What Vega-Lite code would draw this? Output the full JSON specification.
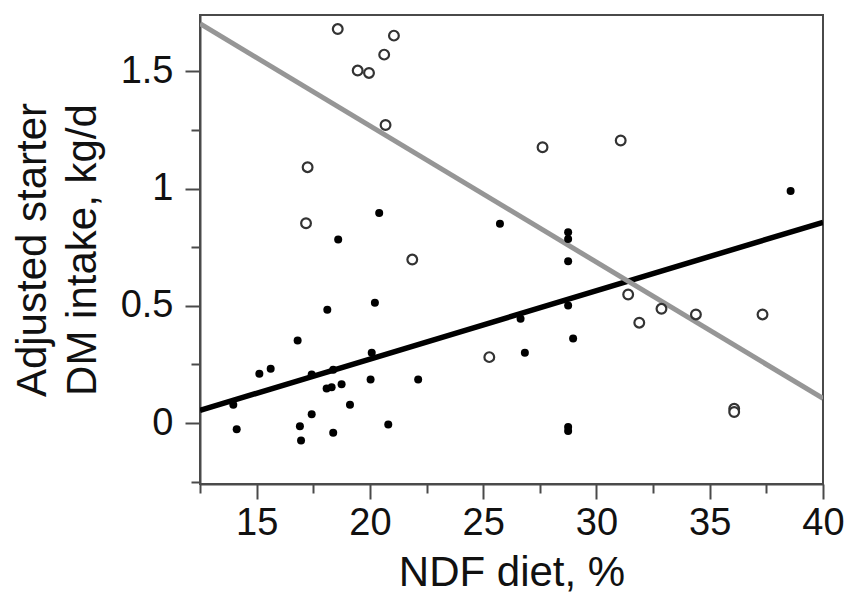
{
  "$schema": "https://vega.github.io/schema/vega-lite/v6.json",
  "autosize": {"type": "none"},
  "padding": {"left": 200, "top": 15, "right": 27, "bottom": 115},
  "width": 623,
  "height": 469,
  "background": "white",
  "config": {
    "view": {"stroke": "#4a4a4a", "strokeWidth": 2},
    "font": "Liberation Sans"
  },
  "datasets": {
    "points": [
      {"x": 18.58, "y": 1.68, "group": "Group 2"},
      {"x": 21.06, "y": 1.652, "group": "Group 2"},
      {"x": 20.63, "y": 1.571, "group": "Group 2"},
      {"x": 19.46, "y": 1.503, "group": "Group 2"},
      {"x": 19.96, "y": 1.493, "group": "Group 2"},
      {"x": 20.69, "y": 1.271, "group": "Group 2"},
      {"x": 17.25, "y": 1.091, "group": "Group 2"},
      {"x": 17.18, "y": 0.852, "group": "Group 2"},
      {"x": 21.87, "y": 0.697, "group": "Group 2"},
      {"x": 27.62, "y": 1.176, "group": "Group 2"},
      {"x": 31.07, "y": 1.205, "group": "Group 2"},
      {"x": 25.27, "y": 0.281, "group": "Group 2"},
      {"x": 31.4, "y": 0.548, "group": "Group 2"},
      {"x": 31.89, "y": 0.428, "group": "Group 2"},
      {"x": 32.87, "y": 0.487, "group": "Group 2"},
      {"x": 34.39, "y": 0.463, "group": "Group 2"},
      {"x": 37.33, "y": 0.463, "group": "Group 2"},
      {"x": 36.08, "y": 0.061, "group": "Group 2"},
      {"x": 36.08, "y": 0.047, "group": "Group 2"},
      {"x": 20.41, "y": 0.896, "group": "Group 1"},
      {"x": 25.74, "y": 0.85, "group": "Group 1"},
      {"x": 18.6, "y": 0.783, "group": "Group 1"},
      {"x": 38.57, "y": 0.989, "group": "Group 1"},
      {"x": 28.75, "y": 0.814, "group": "Group 1"},
      {"x": 28.75, "y": 0.785, "group": "Group 1"},
      {"x": 28.75, "y": 0.69, "group": "Group 1"},
      {"x": 18.12, "y": 0.483, "group": "Group 1"},
      {"x": 20.22, "y": 0.513, "group": "Group 1"},
      {"x": 16.81, "y": 0.352, "group": "Group 1"},
      {"x": 15.12, "y": 0.21, "group": "Group 1"},
      {"x": 15.62, "y": 0.232, "group": "Group 1"},
      {"x": 17.43, "y": 0.207, "group": "Group 1"},
      {"x": 18.38, "y": 0.227, "group": "Group 1"},
      {"x": 20.08, "y": 0.3, "group": "Group 1"},
      {"x": 18.09, "y": 0.147, "group": "Group 1"},
      {"x": 18.31, "y": 0.153, "group": "Group 1"},
      {"x": 18.75, "y": 0.165, "group": "Group 1"},
      {"x": 20.03, "y": 0.186, "group": "Group 1"},
      {"x": 22.13, "y": 0.186, "group": "Group 1"},
      {"x": 19.12, "y": 0.078, "group": "Group 1"},
      {"x": 13.97, "y": 0.078, "group": "Group 1"},
      {"x": 14.12, "y": -0.027, "group": "Group 1"},
      {"x": 17.43, "y": 0.037, "group": "Group 1"},
      {"x": 16.91, "y": -0.014, "group": "Group 1"},
      {"x": 16.96, "y": -0.074, "group": "Group 1"},
      {"x": 18.38, "y": -0.041, "group": "Group 1"},
      {"x": 20.81, "y": -0.006, "group": "Group 1"},
      {"x": 26.65, "y": 0.445, "group": "Group 1"},
      {"x": 28.75, "y": 0.501, "group": "Group 1"},
      {"x": 28.97, "y": 0.36, "group": "Group 1"},
      {"x": 26.84, "y": 0.3, "group": "Group 1"},
      {"x": 28.75, "y": -0.017, "group": "Group 1"},
      {"x": 28.75, "y": -0.034, "group": "Group 1"}
    ],
    "fits": [
      {"x": 12.5, "y": 0.054, "group": "Group 1"},
      {"x": 40, "y": 0.856, "group": "Group 1"},
      {"x": 12.5, "y": 1.703, "group": "Group 2"},
      {"x": 40, "y": 0.105, "group": "Group 2"}
    ]
  },
  "encoding": {
    "x": {
      "field": "x",
      "type": "quantitative",
      "scale": {"domain": [12.5, 40], "nice": false, "zero": false},
      "axis": {
        "title": "NDF diet, %",
        "values": [12.5, 15, 17.5, 20, 22.5, 25, 27.5, 30, 32.5, 35, 37.5, 40],
        "labelExpr": "datum.value % 5 === 0 ? datum.label : ''",
        "tickSize": {"condition": {"test": "datum.value % 5 === 0", "value": 15}, "value": 9},
        "grid": false,
        "domainColor": "#4a4a4a",
        "domainWidth": 2,
        "tickColor": "#4a4a4a",
        "tickWidth": 2,
        "labelFontSize": 38,
        "labelColor": "#111111",
        "labelPadding": 5,
        "labelFlush": false,
        "labelOverlap": false,
        "titleFontSize": 42,
        "titleFontWeight": "normal",
        "titleColor": "#111111",
        "titlePadding": 10
      }
    },
    "y": {
      "field": "y",
      "type": "quantitative",
      "scale": {"domain": [-0.26, 1.74], "nice": false, "zero": false},
      "axis": {
        "title": ["Adjusted starter", "DM intake, kg/d"],
        "values": [-0.25, 0, 0.25, 0.5, 0.75, 1, 1.25, 1.5],
        "format": "~g",
        "labelExpr": "abs(datum.value * 2 - round(datum.value * 2)) < 0.001 ? datum.label : ''",
        "tickSize": {"condition": {"test": "abs(datum.value * 2 - round(datum.value * 2)) < 0.001", "value": 15}, "value": 9},
        "grid": false,
        "domainColor": "#4a4a4a",
        "domainWidth": 2,
        "tickColor": "#4a4a4a",
        "tickWidth": 2,
        "labelFontSize": 38,
        "labelColor": "#111111",
        "labelPadding": 12,
        "labelOverlap": false,
        "titleFontSize": 42,
        "titleFontWeight": "normal",
        "titleColor": "#111111",
        "titleLineHeight": 50,
        "titlePadding": 16
      }
    }
  },
  "layer": [
    {
      "data": {"name": "fits"},
      "transform": [{"filter": "datum.group === 'Group 1'"}],
      "mark": {"type": "line", "color": "#000000", "strokeWidth": 5.5, "clip": true}
    },
    {
      "data": {"name": "fits"},
      "transform": [{"filter": "datum.group === 'Group 2'"}],
      "mark": {"type": "line", "color": "#969696", "strokeWidth": 5, "clip": true}
    },
    {
      "data": {"name": "points"},
      "transform": [{"filter": "datum.group === 'Group 2'"}],
      "mark": {"type": "point", "shape": "circle", "filled": false, "fill": "white", "fillOpacity": 1, "stroke": "#333333", "strokeWidth": 2.2, "size": 95, "opacity": 1}
    },
    {
      "data": {"name": "points"},
      "transform": [{"filter": "datum.group === 'Group 1'"}],
      "mark": {"type": "circle", "color": "#000000", "size": 64, "opacity": 1}
    }
  ]
}
